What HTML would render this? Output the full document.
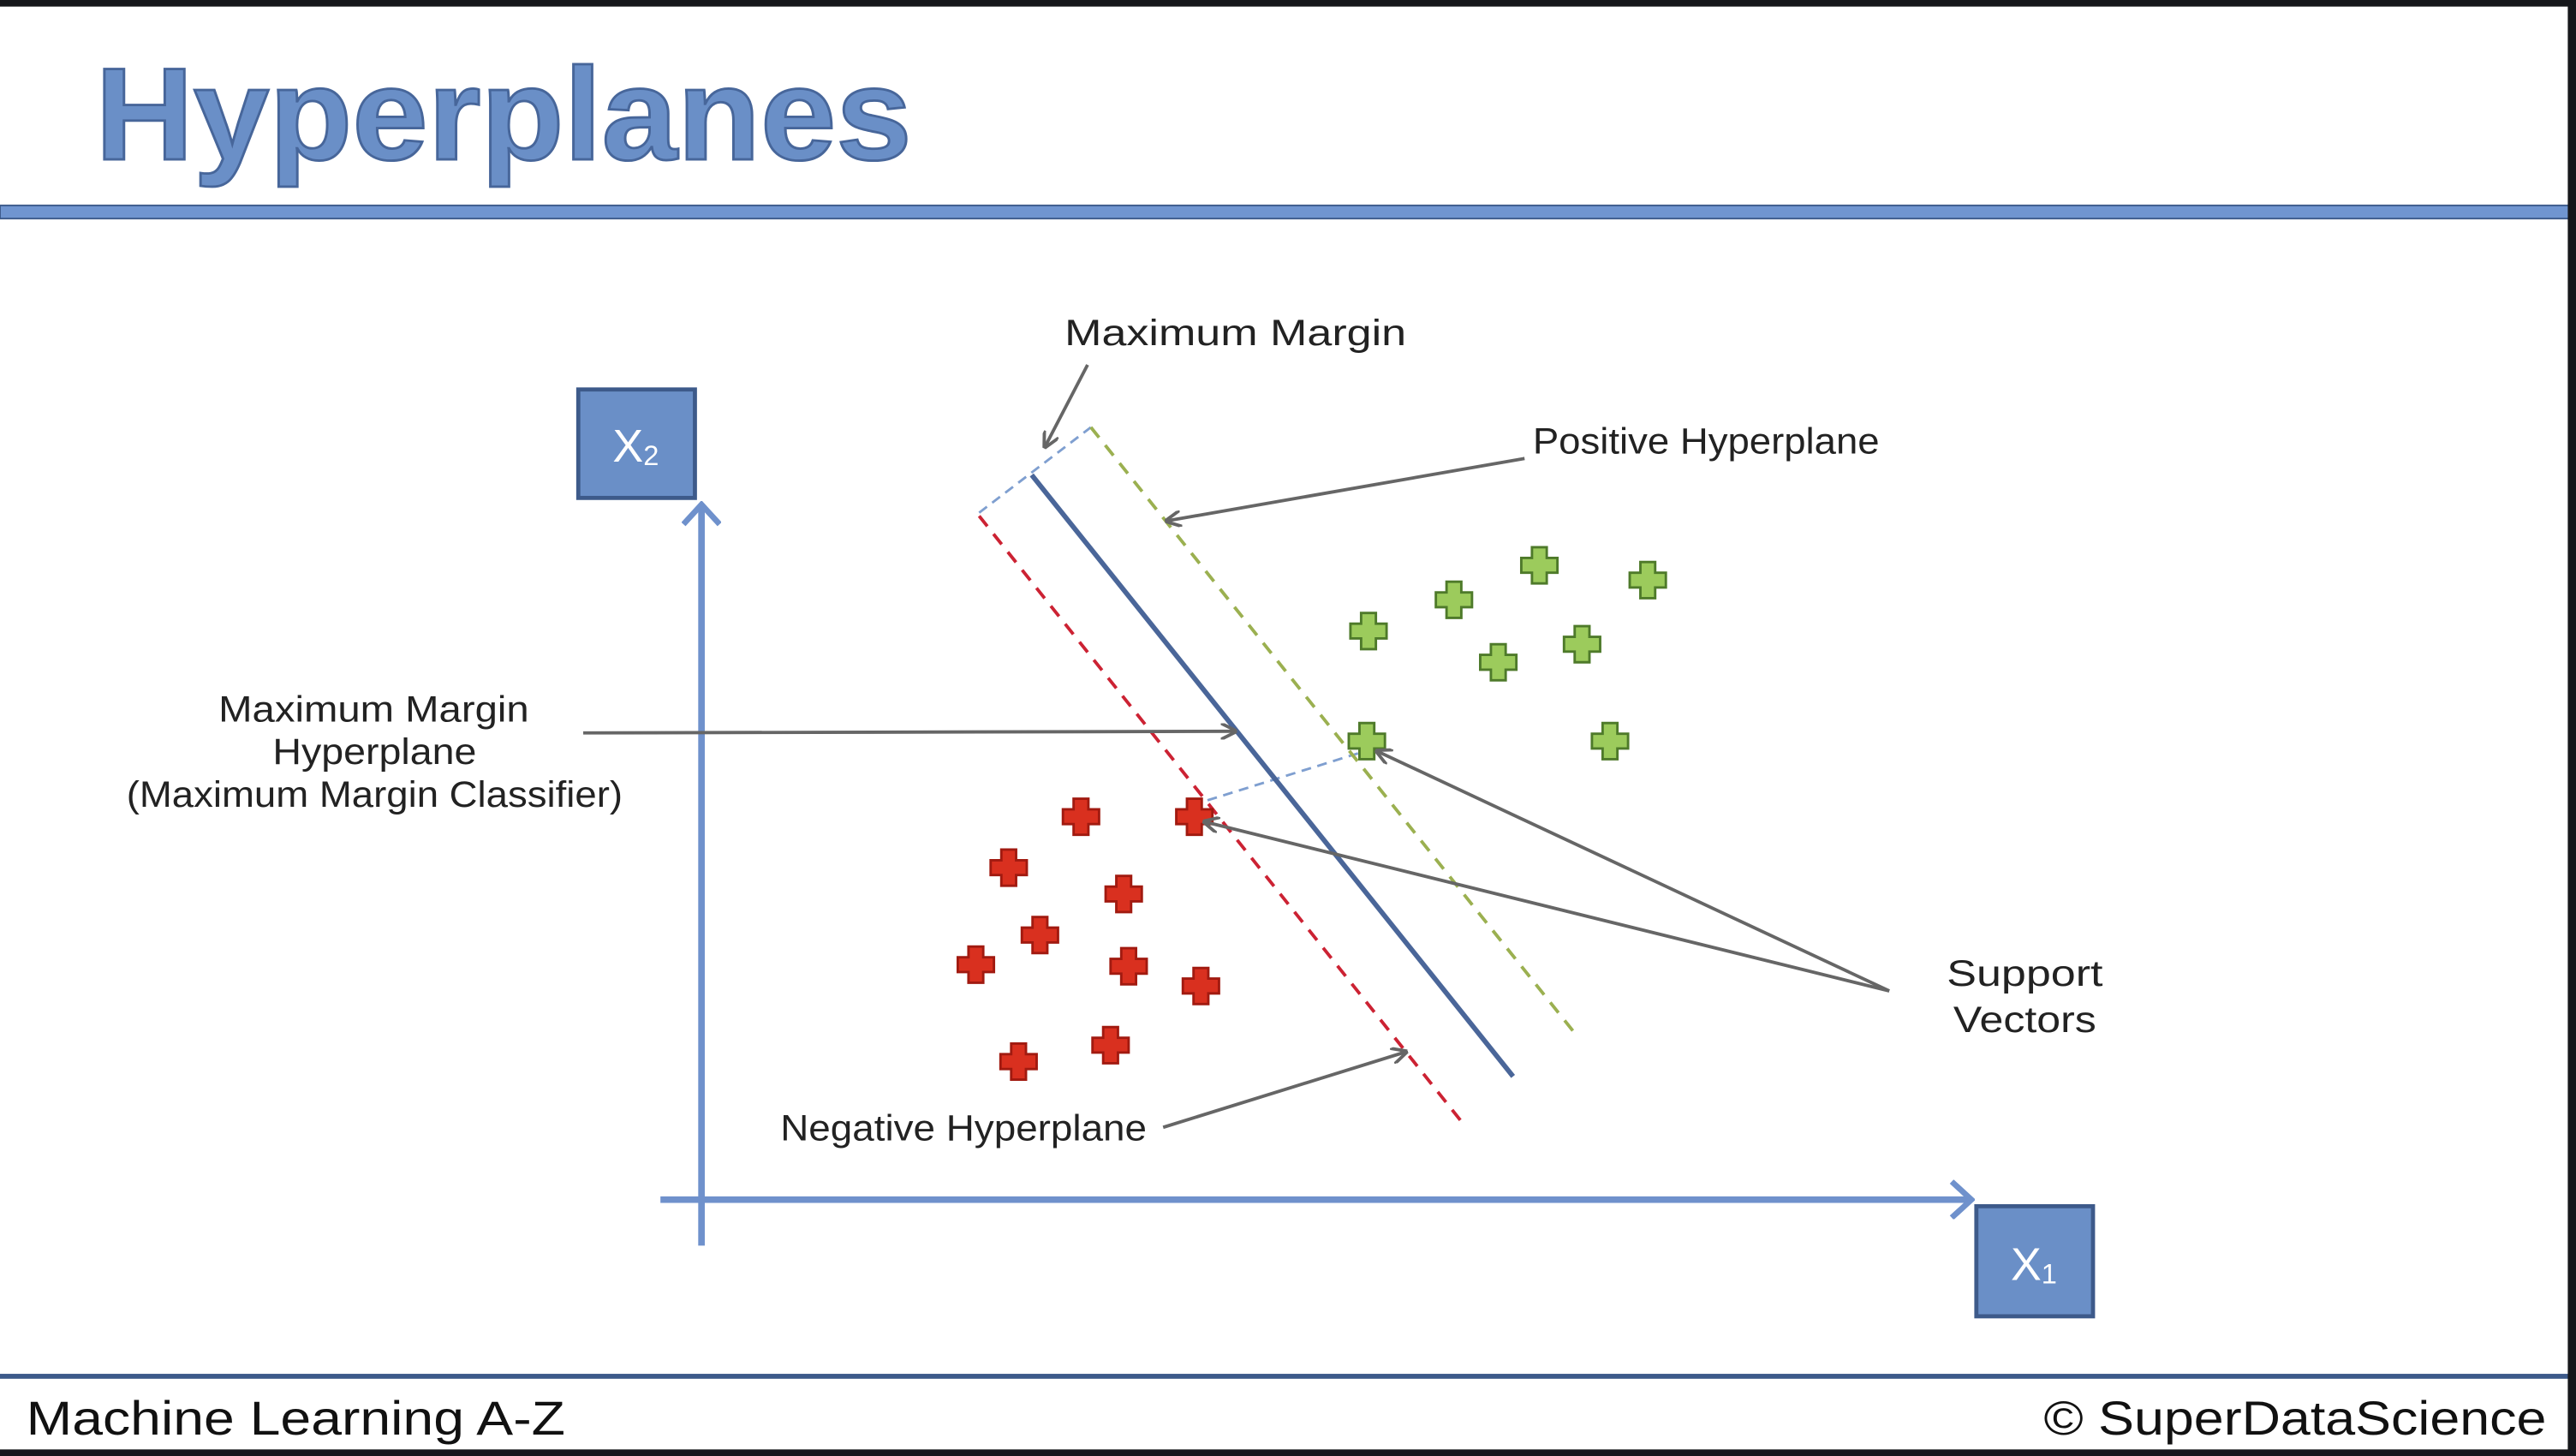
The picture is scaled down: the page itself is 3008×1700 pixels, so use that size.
<!DOCTYPE html>
<html><head><meta charset="utf-8"><style>
html,body{margin:0;padding:0;background:#fff;}
svg{display:block;}
text{font-family:"Liberation Sans",sans-serif;}
</style></head><body>
<svg id="c" width="3008" height="1700" viewBox="0 0 1568 886" preserveAspectRatio="none">
<defs>
<marker id="ah" markerWidth="10" markerHeight="10" refX="9" refY="5" orient="auto" markerUnits="userSpaceOnUse">
<path d="M0,0 L10,5 L0,10" fill="none" stroke="#666" stroke-width="2"/></marker>
<marker id="axh" markerWidth="16" markerHeight="24" refX="14" refY="12" orient="auto" markerUnits="userSpaceOnUse">
<path d="M2,1 L14,12 L2,23" fill="none" stroke="#6f91cc" stroke-width="3.5"/></marker>
</defs>
<rect x="0" y="0" width="1568" height="4" fill="#16171b"/>
<rect x="0" y="882" width="1568" height="4" fill="#16171b"/>
<text x="58" y="97" font-size="80" font-weight="bold" fill="#6a8fc7" stroke="#47669a" stroke-width="1.5" textLength="497" lengthAdjust="spacingAndGlyphs">Hyperplanes</text>
<rect x="0" y="125" width="1568" height="8" fill="#7095d0" stroke="#3d5a8a" stroke-width="1"/>
<rect x="0" y="836" width="1568" height="3" fill="#3d5a8a"/>
<text x="16" y="873" font-size="29" fill="#111" textLength="328" lengthAdjust="spacingAndGlyphs">Machine Learning A-Z</text>
<text x="1244" y="873" font-size="29" fill="#111" textLength="306" lengthAdjust="spacingAndGlyphs">© SuperDataScience</text>

<line x1="427" y1="758" x2="427" y2="307" stroke="#6f91cc" stroke-width="4" marker-end="url(#axh)"/>
<line x1="402" y1="730" x2="1200" y2="730" stroke="#6f91cc" stroke-width="4" marker-end="url(#axh)"/>
<rect x="352" y="237" width="71" height="66" fill="#6a8fc7" stroke="#3d5a8a" stroke-width="2.5"/>
<text x="387" y="281" font-size="28" fill="#fff" text-anchor="middle">X<tspan font-size="17" dy="2">2</tspan></text>
<rect x="1203" y="734" width="71" height="67" fill="#6a8fc7" stroke="#3d5a8a" stroke-width="2.5"/>
<text x="1238" y="779" font-size="28" fill="#fff" text-anchor="middle">X<tspan font-size="17" dy="2">1</tspan></text>

<line x1="596" y1="312" x2="664" y2="260" stroke="#7f9fd0" stroke-width="1.5" stroke-dasharray="6,4"/>
<line x1="735" y1="487" x2="828" y2="458" stroke="#7f9fd0" stroke-width="1.5" stroke-dasharray="6,4"/>
<line x1="664" y1="260" x2="958" y2="628" stroke="#9bb050" stroke-width="2" stroke-dasharray="8,6"/>
<line x1="596" y1="314" x2="890" y2="683" stroke="#cc2233" stroke-width="2" stroke-dasharray="8,6"/>
<line x1="628" y1="289" x2="921" y2="655" stroke="#4a6699" stroke-width="3"/>
<g id="pts"></g>

<g fill="#222" font-size="22" lengthAdjust="spacingAndGlyphs">
<text x="648" y="210" textLength="208" lengthAdjust="spacingAndGlyphs">Maximum Margin</text>
<text x="933" y="276" textLength="211" lengthAdjust="spacingAndGlyphs">Positive Hyperplane</text>
<text x="133" y="439" textLength="189" lengthAdjust="spacingAndGlyphs">Maximum Margin</text>
<text x="166" y="465" textLength="124" lengthAdjust="spacingAndGlyphs">Hyperplane</text>
<text x="77" y="491" textLength="302" lengthAdjust="spacingAndGlyphs">(Maximum Margin Classifier)</text>
<text x="1185" y="600" textLength="95" lengthAdjust="spacingAndGlyphs">Support</text>
<text x="1189" y="628" textLength="87" lengthAdjust="spacingAndGlyphs">Vectors</text>
<text x="475" y="694" textLength="223" lengthAdjust="spacingAndGlyphs">Negative Hyperplane</text>
</g>
<g stroke="#666" stroke-width="2" fill="none" marker-end="url(#ah)">
<line x1="662" y1="222" x2="636" y2="272"/>
<line x1="928" y1="279" x2="710" y2="317"/>
<line x1="355" y1="446" x2="752" y2="445"/>
<line x1="1150" y1="603" x2="838" y2="457"/>
<line x1="1150" y1="603" x2="733" y2="500"/>
<line x1="708" y1="686" x2="856" y2="640"/>
</g>
<rect x="1563" y="0" width="5" height="886" fill="#16171b"/>
</svg>
<script>
const greenX=[833,885,937,1003,912,963,980,832];
const greenY=[384,365,344,353,403,392,451,451];
const redX=[658,727,614,684,633,594,687,731,620,676];
const redY=[497,497,528,544,569,587,588,600,646,636];
const NS="http://www.w3.org/2000/svg";
const g=document.getElementById('pts');
function plus(cx,cy,fill,stroke,name){
  const a=11,t=4.5;
  const d=`M${cx-t},${cy-a}H${cx+t}V${cy-t}H${cx+a}V${cy+t}H${cx+t}V${cy+a}H${cx-t}V${cy+t}H${cx-a}V${cy-t}H${cx-t}Z`;
  const p=document.createElementNS(NS,'path');
  p.setAttribute('d',d);p.setAttribute('fill',fill);p.setAttribute('stroke',stroke);p.setAttribute('stroke-width','1.5');
  
  
  g.appendChild(p);
}
greenX.forEach((x,i)=>plus(x,greenY[i],'#9ccb5c','#4e7a2a','positive-point'));
redX.forEach((x,i)=>plus(x,redY[i],'#d9301f','#a11a10','negative-point'));
</script>
</body></html>
